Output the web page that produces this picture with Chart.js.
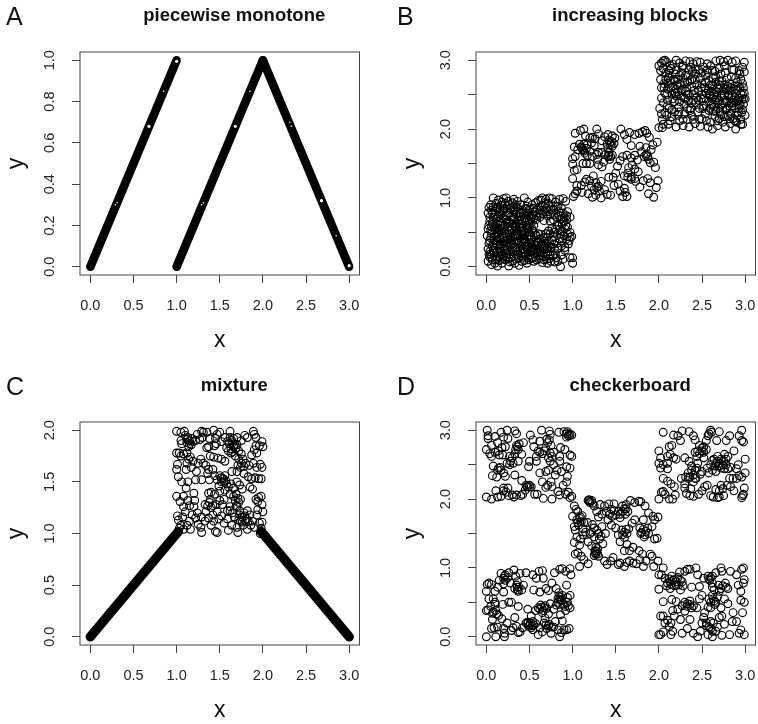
<!DOCTYPE html>
<html>
<head>
<meta charset="utf-8">
<title>Dependence patterns</title>
<script src="https://cdn.jsdelivr.net/npm/chart.js@4"></script>
<style>
  body { margin: 0; background: #fff; }
  canvas { position: absolute; }
</style>
</head>
<body>
<canvas id="panelA" width="379" height="354" style="left:0;top:0"></canvas>
<canvas id="panelB" width="379" height="354" style="left:379px;top:0"></canvas>
<canvas id="panelC" width="379" height="354" style="left:0;top:370px"></canvas>
<canvas id="panelD" width="379" height="354" style="left:379px;top:370px"></canvas>
<script>
const threeTicks = [0, 0.5, 1, 1.5, 2, 2.5, 3];
const unitTicks = [0, 0.2, 0.4, 0.6, 0.8, 1];
const twoTicks = [0, 0.5, 1, 1.5, 2];

// panel A, straight runs of overlapping circles and the few gaps left in them
const aRiseLeft = [[0, 0], [1, 1]];
const aRiseRight = [[1, 0], [2, 1]];
const aFall = [[2, 1], [3, 0]];
const aGaps = [[0.68, 0.68], [1.68, 0.68], [2.68, 0.32], [1, 0.995], [3, 0.005]];
const aSpecks = [[0.29, 0.3], [0.31, 0.31], [1.29, 0.3], [1.31, 0.31], [2.31, 0.7], [2.33, 0.68], [0.85, 0.85], [1.85, 0.85], [2.85, 0.15]];
const cLeftRun = [[0, 0], [1.02, 1.02]];
const cRightRun = [[1.98, 1.02], [3, 0]];

const bLower = [
  [.02,.78],[.03,.86],[.05,.9],[.08,.87],[.08,1],[.11,.92],[.14,.97],[.17,.89],[.2,.99],[.23,1],[.25,.95],[.28,.85],[.32,.98],[.36,.95],[.4,.9],[.44,1],[.47,.88],[.5,.83],[.53,.9],[.57,.93],[.6,.96],[.63,.97],[.65,1],[.69,.98],[.73,1],[.76,.99],[.8,.94],[.85,.98],[.89,.99],[.92,.95],[.94,.8],[.97,.72],
  [.04,.72],[.07,.78],[.1,.8],[.13,.84],[.16,.76],[.19,.81],[.22,.74],[.25,.78],[.28,.72],[.31,.82],[.34,.76],[.37,.83],[.4,.73],[.43,.78],[.46,.71],[.49,.75],[.52,.7],[.56,.79],[.59,.84],[.62,.87],[.66,.89],[.7,.85],[.72,.8],[.75,.83],[.78,.75],[.81,.87],[.84,.8],[.87,.85],[.9,.72],[.93,.68],
  [.01,.45],[.02,.55],[.03,.6],[.05,.52],[.07,.65],[.09,.58],[.11,.7],[.13,.62],[.15,.54],[.17,.67],[.19,.6],[.21,.52],[.23,.68],[.25,.58],[.27,.63],[.29,.54],[.31,.68],[.33,.6],[.35,.53],[.37,.66],[.39,.58],[.41,.62],[.43,.52],[.45,.65],[.47,.57],[.49,.51],[.51,.63],[.53,.55],[.55,.6],[.72,.52],[.76,.56],[.79,.5],[.82,.6],[.85,.54],[.88,.62],[.91,.55],[.94,.48],[.97,.5],[.99,.44],
  [.02,.26],[.03,.34],[.05,.42],[.07,.3],[.09,.38],[.11,.46],[.13,.32],[.15,.41],[.17,.27],[.19,.36],[.21,.44],[.23,.3],[.25,.39],[.27,.47],[.29,.33],[.31,.42],[.33,.28],[.35,.37],[.37,.45],[.39,.31],[.41,.4],[.43,.26],[.45,.35],[.47,.44],[.49,.3],[.51,.39],[.53,.27],[.55,.36],[.57,.46],[.59,.31],[.61,.4],[.63,.47],[.65,.29],[.67,.37],[.7,.43],[.73,.3],[.76,.38],[.79,.26],[.82,.34],[.85,.41],[.88,.37],[.91,.28],[.93,.4],[.95,.33],[.97,.43],[.71,.26],
  [.02,.08],[.04,.14],[.03,.18],[.06,.03],[.07,.1],[.09,.2],[.1,.05],[.12,.14],[.13,.01],[.15,.09],[.17,.22],[.18,.05],[.2,.16],[.22,.1],[.24,.19],[.26,.01],[.27,.07],[.29,.14],[.31,.22],[.33,.05],[.34,.11],[.36,.18],[.38,.02],[.39,.24],[.41,.08],[.43,.14],[.45,.21],[.47,.05],[.49,.1],[.51,.17],[.53,.23],[.55,.08],[.57,.14],[.59,.2],[.61,.11],[.63,.16],[.65,.06],[.67,.1],[.69,.18],[.71,.05],[.73,.12],[.75,.08],[.77,.16],[.79,.07],[.81,.13],[.83,.08],[.86,0],[.87,.17],[.89,.11],[.91,.24],[.97,.13],[1,.05],[1,.13],
  [.04,.22],[.1,.27],[.16,.15],[.24,.25],[.3,.08],[.36,.28],[.42,.19],[.48,.25],[.54,.13],[.6,.24],[.64,.22],[.68,.26],[.74,.22],[.8,.19],[.06,.48],[.12,.5],[.18,.47],[.24,.48],[.3,.49],[.36,.47],[.42,.48],[.08,.72],[.14,.73],[.2,.7],[.26,.66],[.32,.72],[.38,.68],[.44,.7],[.5,.66],[.46,.85],[.42,.82],[.34,.9],[.3,.93],[.18,.94],[.12,.85],
  [.58,.45],[.6,.48],[.66,.42],[.69,.48],[.74,.48],[.78,.43],[.82,.47],[.86,.48],[.9,.45],[.57,.68],[.62,.72],[.67,.67],[.71,.74],[.66,.76],[.74,.66],[.78,.68],[.82,.72],[.86,.69],[.89,.78],[.93,.74]
];
const bLowerDense = [
  [.06,.14],[.11,.1],[.14,.2],[.19,.12],[.21,.23],[.26,.13],[.28,.22],[.32,.15],[.35,.24],[.4,.16],[.44,.09],[.46,.17],[.5,.22],[.52,.12],[.56,.19],[.58,.1],[.62,.2],[.66,.15],[.7,.11],[.74,.17],
  [.08,.34],[.12,.38],[.16,.33],[.2,.3],[.22,.37],[.26,.34],[.28,.41],[.32,.35],[.34,.44],[.38,.37],[.4,.34],[.44,.4],[.46,.29],[.5,.35],[.52,.43],[.56,.32],[.6,.36],[.64,.33],[.68,.3],[.72,.38],
  [.06,.58],[.1,.54],[.14,.66],[.18,.55],[.22,.6],[.26,.53],[.3,.62],[.34,.57],[.38,.62],[.42,.56],[.46,.6],[.5,.58],[.54,.52],[.5,.46],[.44,.46],[.8,.55],[.84,.6],[.88,.52],[.92,.6],
  [.06,.82],[.1,.76],[.15,.8],[.21,.84],[.24,.88],[.27,.78],[.33,.8],[.39,.78],[.45,.75],[.48,.8],[.54,.76],[.58,.74],[.61,.78],[.65,.82],[.68,.8],[.74,.76],[.77,.88],[.83,.88],[.48,.94],[.55,.85],
  [.05,.18],[.08,.24],[.12,.22],[.18,.18],[.23,.14],[.27,.18],[.3,.27],[.37,.12],[.42,.25],[.48,.13],[.52,.33],[.55,.25],[.58,.38],[.62,.28],[.66,.25],[.7,.34],[.75,.28],[.78,.33],[.83,.27],[.87,.3],
  [.04,.38],[.09,.44],[.14,.48],[.19,.42],[.24,.43],[.29,.39],[.33,.47],[.4,.44],[.45,.5],[.48,.56],[.4,.52],[.35,.62],[.3,.56],[.24,.65],[.16,.6],[.12,.56],[.08,.62],[.04,.66],
  [.11,.86],[.16,.85],[.22,.92],[.27,.9],[.31,.87],[.36,.86],[.38,.73],[.41,.67],[.47,.78],[.51,.73],[.55,.7],[.62,.82],[.68,.92],[.72,.92],[.78,.82],[.84,.74],[.88,.7],[.9,.66],[.94,.58],[.96,.38]
];
const bMiddle = [
  [1.03,1.94],[1.09,1.98],[1.13,2],[1.02,1.74],[1.08,1.78],[1.1,1.74],[1.12,1.7],[1.06,1.7],[1.14,1.65],[1.17,1.62],[1.0,1.57],[1.03,1.6],[1.0,1.49],[1.05,1.41],[1.02,1.4],[1.0,1.28],[1.05,1.18],[1.1,1.18],[1.03,1.06],[1.01,1.02],[1.05,1.1],[1.11,1.08],
  [1.15,1.9],[1.2,1.87],[1.23,1.88],[1.28,2],[1.3,1.93],[1.26,1.86],[1.22,1.8],[1.25,1.76],[1.17,1.77],[1.13,1.78],[1.2,1.68],[1.12,1.5],[1.16,1.5],[1.2,1.5],[1.23,1.6],[1.28,1.63],[1.3,1.66],[1.34,1.66],[1.38,1.63],[1.41,1.6],[1.43,1.56],[1.42,1.66],[1.46,1.62],[1.3,1.48],[1.34,1.45],[1.36,1.52],[1.29,1.56],[1.24,1.32],[1.2,1.25],[1.16,1.27],[1.22,1.17],[1.14,1.23],[1.25,1.12],[1.18,1.06],[1.23,1.01],[1.27,1.04],[1.28,1.15],[1.31,1.1],[1.27,1.22],[1.33,1.24],[1.3,1.17],
  [1.37,1.89],[1.41,1.92],[1.46,1.9],[1.49,1.87],[1.42,1.84],[1.45,1.82],[1.4,1.78],[1.44,1.77],[1.48,1.79],[1.34,1.83],[1.56,2],[1.6,1.92],[1.66,1.95],[1.63,1.85],[1.68,1.76],[1.72,1.92],[1.77,1.94],[1.81,1.96],[1.84,1.98],[1.86,1.94],[1.89,1.88],[1.78,1.75],[1.85,1.73],[1.93,1.77],[1.98,1.81],[1.91,1.7],[1.86,1.64],[1.83,1.6],[1.88,1.56],[1.9,1.51],[1.94,1.52],[1.96,1.44],[1.8,1.67],
  [1.55,1.54],[1.58,1.6],[1.63,1.62],[1.68,1.58],[1.72,1.62],[1.75,1.55],[1.69,1.48],[1.65,1.44],[1.72,1.42],[1.76,1.38],[1.52,1.46],[1.5,1.36],[1.47,1.3],[1.53,1.2],[1.48,1.18],[1.42,1.3],[1.6,1.32],[1.64,1.3],[1.68,1.27],[1.73,1.24],[1.78,1.16],[1.82,1.25],[1.87,1.28],[1.9,1.22],[1.99,1.25],[1.97,1.15],[1.88,1.06],[1.94,1.01],[1.4,1.05],[1.44,1.04],[1.55,1.1],[1.58,1.02],[1.61,1.08],[1.63,1.02],[1.6,1.14],[1.37,1.12],[1.33,1.0],[1.64,1.36],
  [1.11,1.72],[1.13,1.68],[1.16,1.72],[1.43,1.8],[1.46,1.75],[1.41,1.72],[1.85,1.62],[1.87,1.6],[1.42,1.62],[1.44,1.6],[1.68,1.3],[1.72,1.28]
];
const bUpper = [
  [2,2.92],[2.02,2.85],[2.03,2.96],[2.05,2.99],[2.07,3],[2.09,2.97],[2.05,2.88],[2.08,2.82],[2.11,2.75],[2.14,2.88],[2.16,2.94],[2.2,3],[2.24,2.96],[2.27,2.9],[2.31,2.99],[2.36,2.98],[2.4,2.95],[2.44,2.98],[2.48,2.97],[2.52,2.9],[2.56,2.95],[2.62,2.85],[2.66,2.99],[2.71,3],[2.75,2.98],[2.8,3],[2.85,2.97],[2.89,2.99],[2.93,2.85],[2.97,2.9],[2.99,2.97],[2.99,2.83],
  [2.03,2.6],[2.02,2.72],[2.06,2.66],[2.1,2.58],[2.13,2.7],[2.16,2.62],[2.19,2.8],[2.22,2.72],[2.26,2.82],[2.3,2.68],[2.34,2.78],[2.38,2.62],[2.42,2.72],[2.46,2.86],[2.5,2.66],[2.54,2.78],[2.58,2.7],[2.62,2.63],[2.66,2.76],[2.7,2.88],[2.73,2.7],[2.77,2.82],[2.8,2.62],[2.84,2.76],[2.87,2.86],[2.91,2.68],[2.95,2.72],[2.98,2.6],[2.12,2.85],[2.28,2.92],[2.42,2.87],[2.6,2.92],[2.76,2.92],
  [2.01,2.3],[2.03,2.45],[2.05,2.38],[2.07,2.52],[2.1,2.42],[2.12,2.3],[2.15,2.52],[2.18,2.4],[2.2,2.58],[2.23,2.32],[2.26,2.48],[2.29,2.36],[2.31,2.55],[2.34,2.42],[2.37,2.3],[2.4,2.5],[2.43,2.38],[2.46,2.56],[2.49,2.44],[2.52,2.34],[2.55,2.52],[2.58,2.4],[2.61,2.55],[2.64,2.32],[2.67,2.46],[2.7,2.58],[2.73,2.36],[2.76,2.5],[2.79,2.4],[2.82,2.56],[2.85,2.34],[2.88,2.46],[2.91,2.56],[2.94,2.36],[2.97,2.5],[3,2.44],[3,2.2],[2.97,2.28],[2.93,2.45],[2.84,2.45],[2.72,2.48],[2.6,2.48],[2.33,2.5],[2.2,2.48],
  [2.0,2.02],[2.04,2.02],[2.04,2.14],[2.03,2.22],[2.05,2.07],[2.11,2.07],[2.15,2.18],[2.2,2.03],[2.18,2.25],[2.24,2.12],[2.28,2.05],[2.3,2.22],[2.35,2.03],[2.33,2.14],[2.38,2.2],[2.42,2.08],[2.45,2.25],[2.48,2.04],[2.5,2.15],[2.54,2.22],[2.57,2.03],[2.6,2.1],[2.62,2],[2.65,2.18],[2.68,2.05],[2.71,2.25],[2.74,2.1],[2.77,2.03],[2.8,2.2],[2.83,2.08],[2.86,2.15],[2.89,2],[2.92,2.24],[2.95,2.07],[2.97,2.07],[2.9,2.1],[2.7,2.15],[2.58,2.27],[2.36,2.27],[2.23,2.25]
];
const bUpperDense = [
  [2.06,2.6],[2.09,2.5],[2.12,2.78],[2.14,2.6],[2.16,2.44],[2.18,2.7],[2.2,2.86],[2.22,2.54],[2.24,2.4],[2.25,2.65],[2.28,2.74],[2.3,2.44],[2.32,2.6],[2.33,2.3],[2.35,2.5],[2.36,2.7],[2.38,2.38],[2.39,2.84],[2.41,2.56],[2.44,2.46],[2.44,2.64],[2.47,2.3],[2.48,2.74],[2.5,2.5],[2.52,2.44],[2.53,2.6],[2.55,2.34],[2.56,2.86],[2.57,2.56],[2.59,2.3],[2.6,2.64],[2.62,2.44],[2.63,2.74],[2.64,2.5],[2.65,2.84],[2.66,2.26],[2.68,2.6],[2.68,2.38],[2.7,2.7],[2.7,2.42],[2.72,2.8],[2.72,2.22],[2.74,2.56],[2.74,2.3],[2.76,2.64],[2.77,2.42],[2.78,2.28],[2.79,2.74],[2.8,2.5],[2.81,2.34],[2.82,2.66],[2.83,2.22],[2.84,2.56],[2.85,2.86],[2.86,2.42],[2.87,2.62],[2.88,2.3],[2.89,2.74],[2.9,2.4],[2.91,2.2],[2.92,2.62],[2.93,2.3],[2.94,2.8],[2.95,2.52],[2.96,2.42],[2.97,2.66],[2.98,2.36],[2.99,2.52],[2.95,2.14],[2.88,2.12],[2.82,2.15],[2.76,2.18],[2.68,2.12],[2.63,2.26],[2.55,2.12],[2.47,2.14],[2.4,2.14],[2.28,2.14],[2.22,2.2],[2.13,2.12],[2.09,2.2],[2.07,2.24],[2.1,2.34],[2.15,2.28],[2.27,2.58],[2.31,2.78],[2.37,2.9],[2.5,2.82],[2.66,2.68],[2.78,2.58],[2.84,2.38],
  [2.08,2.72],[2.11,2.66],[2.13,2.92],[2.17,2.72],[2.19,2.52],[2.21,2.64],[2.24,2.78],[2.26,2.56],[2.29,2.46],[2.33,2.68],[2.35,2.86],[2.38,2.72],[2.4,2.42],[2.43,2.8],[2.46,2.42],[2.49,2.6],[2.51,2.3],[2.54,2.68],[2.57,2.82],[2.59,2.5],[2.61,2.36],[2.63,2.58],[2.65,2.42],[2.67,2.54],[2.69,2.3],[2.71,2.64],[2.73,2.5],[2.75,2.38],[2.77,2.6],[2.79,2.3],[2.81,2.48],[2.83,2.6],[2.85,2.5],[2.87,2.38],[2.89,2.58],[2.9,2.24],[2.92,2.42],[2.94,2.6],[2.96,2.24],[2.98,2.44]
];

const cBlock = [
  [1,1.99],[1.05,1.98],[1.09,1.99],[1.1,1.95],[1.13,1.93],[1.05,1.9],[1.06,1.87],[1.12,1.88],[1.15,1.9],[1.17,1.86],[1.14,1.84],[1.19,1.89],[1.22,1.9],[1.24,1.96],[1.27,1.91],[1.29,1.99],[1.31,1.98],[1.3,1.93],[1.35,1.98],[1.38,1.92],[1.43,2],[1.47,1.96],[1.45,1.92],[1.5,1.98],[1.46,1.87],[1.44,1.85],[1.35,1.83],[1.37,1.84],[1.52,1.89],[1.56,1.93],[1.59,1.89],[1.62,1.99],[1.62,1.93],[1.66,1.92],[1.7,1.93],[1.75,1.9],[1.79,1.95],[1.82,1.93],[1.89,1.99],[1.9,1.96],[1.92,1.93],[1.99,1.89],[1.96,1.85],[2,1.84],[1.92,1.85],[1.9,1.81],[1.93,1.78],[1.87,1.76],
  [1,1.78],[1.03,1.78],[1.05,1.75],[1.08,1.77],[1.12,1.78],[1.16,1.74],[1.19,1.7],[1.12,1.68],[1.01,1.67],[1,1.62],[1.11,1.62],[1.17,1.64],[1.25,1.68],[1.23,1.6],[1.02,1.55],[1.06,1.5],[1.13,1.5],[1.11,1.44],[1.22,1.52],[1.29,1.52],[1.31,1.68],[1.34,1.66],[1.37,1.62],[1.36,1.58],[1.42,1.62],[1.39,1.75],[1.43,1.74],[1.48,1.73],[1.52,1.72],[1.56,1.7],[1.6,1.8],[1.63,1.78],[1.66,1.84],[1.68,1.75],[1.72,1.8],[1.75,1.77],[1.58,1.83],[1.61,1.87],[1.65,1.88],[1.69,1.83],[1.77,1.72],[1.8,1.68],[1.84,1.66],[1.89,1.68],[1.97,1.67],[1.99,1.64],[1.93,1.64],[1.71,1.66],[1.7,1.6],[1.74,1.64],[1.78,1.58],[1.64,1.6],
  [1.38,1.52],[1.44,1.56],[1.47,1.52],[1.5,1.56],[1.52,1.5],[1.54,1.53],[1.57,1.51],[1.49,1.46],[1.6,1.45],[1.63,1.48],[1.66,1.44],[1.7,1.5],[1.73,1.47],[1.76,1.43],[1.83,1.55],[1.87,1.53],[1.91,1.54],[1.95,1.53],[1.98,1.53],[1.88,1.43],[1.85,1.45],[1.62,1.38],[1.44,1.38],[1.4,1.4],[1.37,1.39],[1.5,1.41],
  [1,1.36],[1.08,1.36],[1.04,1.31],[1.13,1.32],[1.08,1.26],[1.15,1.27],[1.2,1.39],[1.21,1.32],[1.24,1.2],[1.33,1.28],[1.36,1.27],[1.39,1.33],[1.4,1.25],[1.46,1.28],[1.47,1.21],[1.5,1.32],[1.53,1.28],[1.59,1.22],[1.62,1.26],[1.66,1.36],[1.68,1.32],[1.71,1.34],[1.74,1.33],[1.69,1.27],[1.73,1.22],[1.78,1.2],[1.82,1.22],[1.85,1.18],[1.92,1.33],[1.95,1.35],[1.98,1.36],[1.94,1.31],[1.99,1.28],[1.94,1.23],[2,1.21],[1.93,1.18],
  [1.01,1.17],[1.02,1.13],[1.05,1.08],[1.03,1.05],[1.08,1.04],[1.12,1.08],[1.16,1.04],[1.15,1.12],[1.18,1.18],[1.22,1.15],[1.25,1.09],[1.29,1.16],[1.28,1.06],[1.29,1.01],[1.33,1.12],[1.37,1.15],[1.4,1.08],[1.43,1.12],[1.45,1.02],[1.47,1.01],[1.49,1.14],[1.52,1.17],[1.55,1.1],[1.59,1.14],[1.6,1.03],[1.64,1.08],[1.67,1.16],[1.7,1.06],[1.71,1.01],[1.74,1.12],[1.77,1.08],[1.8,1.12],[1.82,1.04],[1.86,1.08],[1.88,1.12],[1.9,1.06],[1.96,1.1],[1.98,1.05],[1.99,1.11],[1.97,1],
  [1.07,1.16],[1.1,1.21],[1.2,1.26],[1.34,1.21],[1.42,1.18],[1.55,1.33],[1.72,1.13],[1.76,1.16],[1.81,1.14],[1.56,1.42],[1.28,1.72],[1.14,1.72],
  [1.63,1.82],[1.65,1.79],[1.67,1.86],[1.64,1.9],[1.7,1.86],[1.15,1.87],[1.18,1.92],[1.12,1.91],[1.55,1.5],[1.58,1.48],[1.56,1.56],[1.52,1.54],[1.7,1.26],[1.72,1.3],[1.69,1.38],[1.73,1.18],[1.76,1.11],[1.79,1.17],[1.83,1.12],[1.62,1.22],[1.65,1.2],[1.38,1.3],[1.42,1.27],[1.75,1.68],[1.78,1.65],[1.72,1.72]
];

const dLowerLeft = [
  [0,0],[.06,.12],[.09,.13],[.11,0],[.13,.14],[.2,.12],[.21,0],[.21,.05],[.24,.2],[.29,.09],[.31,.13],[.35,.15],[.37,.06],[.39,.07],[.42,.13],[.46,.2],[.48,.21],[.5,.17],[.52,.13],[.54,.1],[.57,.19],[.6,.03],[.62,.13],[.65,.07],[.67,.2],[.7,.12],[.72,.16],[.75,.05],[.78,.14],[.8,.22],[.83,.1],[.85,0],[.87,.06],[.88,.23],[.9,.1],[.93,.1],[.96,.12],
  [.0,.38],[.02,.39],[.03,.55],[.05,.44],[.07,.34],[.07,.25],[.08,.55],[.1,.47],[.12,.33],[.14,.31],[.18,.26],[.19,.47],[.26,.5],[.29,.5],[.33,.28],[.37,.44],[.48,.4],[.52,.3],[.54,.22],[.57,.38],[.6,.42],[.63,.46],[.65,.35],[.67,.42],[.68,.27],[.72,.33],[.74,.48],[.78,.4],[.81,.46],[.83,.55],[.86,.32],[.87,.52],[.89,.47],[.92,.38],[.94,.57],[.97,.42],[.97,.6],
  [0,.66],[.01,.76],[.03,.78],[.06,.76],[.1,.66],[.13,.72],[.15,.82],[.17,.92],[.2,.85],[.22,.9],[.2,.77],[.2,.65],[.26,.93],[.28,.78],[.32,.97],[.34,.88],[.36,.72],[.37,.66],[.36,.8],[.39,.92],[.41,.68],[.43,.75],[.46,.93],[.54,.9],[.55,.68],[.58,.85],[.61,.95],[.62,.65],[.65,.96],[.66,.85],[.69,.7],[.72,.67],[.76,.78],[.79,.93],[.81,.7],[.84,.64],[.85,.98],[.88,.99],[.92,.95],[.86,.58],[.93,.75],[.97,.99],[.98,.9],
  [.48,.19],[.51,.2],[.53,.16],[.49,.15],[.55,.17],[.62,.4],[.64,.43],[.66,.38],[.68,.45],[.7,.41],[.84,.58],[.86,.54],[.88,.6],[.83,.5],[.85,.47],[.35,.75],[.33,.7],[.38,.72],[.36,.68],[.21,.88],[.25,.86],[.22,.82],[.1,.5],[.08,.36],[.11,.38],[.73,.18],[.76,.14],[.69,.17],[.94,.5],[.91,.44],[.95,.45]
];
const dUpperLeft = [
  [.01,3],[.02,2.92],[.02,2.88],[0,2.72],[.04,2.66],[.06,2.78],[.1,2.91],[.13,2.82],[.14,2.7],[.17,2.97],[.2,2.9],[.22,2.76],[.19,2.64],[.24,3],[.25,2.88],[.27,2.62],[.33,2.99],[.35,2.95],[.35,2.78],[.37,2.72],[.41,2.65],[.43,2.82],[.51,2.93],[.54,2.86],[.55,2.76],[.58,2.62],[.62,2.84],[.64,3],[.67,2.7],[.7,2.87],[.73,2.99],[.74,2.94],[.75,2.78],[.78,2.68],[.84,2.97],[.86,2.75],[.9,2.98],[.93,2.95],[.95,2.92],[.97,2.93],[.99,2.93],[.97,2.64],[.99,2.62],[.91,2.72],
  [.08,2.48],[.07,2.34],[.12,2.32],[.14,2.45],[.17,2.42],[.2,2.38],[.22,2.33],[.27,2.5],[.31,2.52],[.33,2.35],[.37,2.55],[.41,2.27],[.49,2.47],[.5,2.55],[.58,2.55],[.62,2.38],[.65,2.25],[.69,2.4],[.72,2.42],[.74,2.55],[.78,2.5],[.8,2.35],[.85,2.55],[.87,2.4],[.93,2.47],[.97,2.45],[.94,2.33],[.93,2.25],[.89,2.2],[.75,2.25],
  [0,2.03],[.06,2],[.11,2.12],[.13,2.03],[.17,2.04],[.2,2.16],[.2,2.12],[.23,2.1],[.25,2.16],[.26,2.05],[.3,2.06],[.32,2.03],[.35,2.06],[.4,2.05],[.42,2.07],[.45,2.13],[.47,2.18],[.5,2.17],[.52,2.18],[.56,2.07],[.59,2.07],[.66,2.01],[.69,2.17],[.71,2.2],[.76,2.18],[.76,2.0],[.83,2.11],[.85,2.06],[.92,2.07],[.95,2.1],[.97,2.02],[.99,2.04],
  [.36,2.76],[.38,2.8],[.34,2.72],[.33,2.66],[.3,2.6],[.28,2.55],[.24,2.52],[.13,2.42],[.16,2.46],[.71,2.82],[.73,2.86],[.69,2.74],[.62,2.68],[.65,2.66],[.6,2.7],[.72,2.6],[.76,2.62],[.74,2.67],[.94,2.98],[.96,2.95],[.93,2.9],[.18,2.75],[.15,2.64],[.1,2.68],[.06,2.62],[.48,2.18],[.5,2.2],[.46,2.2],[.85,2.62],[.82,2.42]
];
const dCentre = [
  [1.02,1.9],[1.04,1.85],[1.06,1.82],[1,1.75],[1.05,1.7],[1.09,1.74],[1.1,1.67],[1.02,1.6],[1.03,1.55],[1.07,1.62],[1.12,1.57],[1.05,1.45],[1.09,1.42],[1.02,1.37],[1.08,1.33],[1.12,1.48],[1.06,1.22],[1.1,1.17],[1.03,1.2],[1.08,1.02],[1.13,1.12],[1.18,1.06],
  [1.18,1.98],[1.2,1.97],[1.22,1.98],[1.25,1.9],[1.28,1.82],[1.32,1.92],[1.3,1.74],[1.34,1.78],[1.37,1.9],[1.39,1.82],[1.42,1.93],[1.45,1.85],[1.48,1.93],[1.5,1.77],[1.53,1.82],[1.55,1.73],[1.58,1.9],[1.6,1.86],[1.62,1.92],[1.67,1.98],[1.72,1.95],[1.77,1.97],[1.79,1.96],[1.84,1.9],[1.88,1.8],[1.93,1.75],[1.95,1.7],[1.99,1.74],
  [1.17,1.66],[1.15,1.52],[1.2,1.5],[1.23,1.63],[1.25,1.45],[1.28,1.55],[1.31,1.42],[1.34,1.6],[1.38,1.5],[1.18,1.38],[1.22,1.32],[1.26,1.25],[1.27,1.2],[1.29,1.28],[1.3,1.17],[1.35,1.35],[1.41,1.7],[1.45,1.62],[1.5,1.58],[1.53,1.48],[1.57,1.55],[1.6,1.44],[1.63,1.5],[1.65,1.57],[1.69,1.65],[1.72,1.7],[1.78,1.58],[1.82,1.7],[1.85,1.53],[1.88,1.5],[1.92,1.6],[1.95,1.42],[1.98,1.43],[1.83,1.45],[1.79,1.5],
  [1.37,1.1],[1.4,1.05],[1.44,1.1],[1.47,1.15],[1.53,1.05],[1.55,1.07],[1.6,1.02],[1.63,1.08],[1.66,1.1],[1.7,1.07],[1.74,1.06],[1.78,1.12],[1.82,1.02],[1.85,1.1],[1.9,1.2],[1.92,1.17],[1.94,1.02],[1.99,1.1],[1.66,1.25],[1.6,1.25],[1.7,1.3],[1.77,1.25],[1.81,1.2],[1.55,1.38],[1.63,1.34],
  [1.26,1.22],[1.28,1.24],[1.25,1.18],[1.29,1.2],[1.27,1.3],[1.08,1.72],[1.11,1.76],[1.06,1.66],[1.13,1.66],[1.2,1.95],[1.19,1.99],[1.23,1.94],[1.43,1.78],[1.46,1.75],[1.48,1.83],[1.55,1.78],[1.58,1.82],[1.62,1.86],[1.61,1.78],[1.64,1.82],[1.58,1.48],[1.6,1.52],[1.62,1.56],[1.8,1.52],[1.82,1.56],[1.84,1.48],[1.87,1.58],[1.25,1.58],[1.22,1.52],[1.3,1.5],[1.33,1.46]
];
const dUpperRight = [
  [2.05,2.97],[2.17,2.93],[2.22,2.92],[2.27,2.99],[2.25,2.85],[2.15,2.78],[2.12,2.76],[2.0,2.7],[2.02,2.6],[2.0,2.52],[2.05,2.5],[2.02,2.45],[2.1,2.62],[2.1,2.52],[2.13,2.65],[2.17,2.6],[2.2,2.58],[2.1,2.44],[2.05,2.3],[2.1,2.26],[2.14,2.22],[2.18,2.18],[2.03,2.1],[2.05,2.11],[2.07,2.07],[2.0,2.0],[2.12,2.0],[2.16,2.0],[2.19,2.06],
  [2.35,2.98],[2.4,2.92],[2.42,2.86],[2.47,2.78],[2.42,2.68],[2.45,2.7],[2.5,2.74],[2.52,2.76],[2.55,2.85],[2.57,2.92],[2.58,2.95],[2.6,3],[2.61,2.97],[2.7,2.98],[2.67,2.85],[2.78,2.85],[2.82,2.92],[2.93,2.92],[2.96,3],[2.96,2.85],[2.98,2.83],
  [2.3,2.6],[2.35,2.55],[2.38,2.48],[2.42,2.42],[2.45,2.52],[2.48,2.36],[2.5,2.4],[2.52,2.6],[2.56,2.45],[2.6,2.5],[2.62,2.56],[2.65,2.48],[2.66,2.4],[2.68,2.62],[2.7,2.52],[2.72,2.45],[2.75,2.56],[2.78,2.5],[2.8,2.62],[2.83,2.46],[2.87,2.7],[2.9,2.44],[2.93,2.34],[2.96,2.32],[3,2.38],[3,2.58],[2.92,2.5],[2.76,2.65],
  [2.26,2.3],[2.3,2.22],[2.34,2.3],[2.37,2.15],[2.4,2.25],[2.43,2.3],[2.46,2.07],[2.5,2.12],[2.53,2.18],[2.56,2.2],[2.6,2.05],[2.63,2.03],[2.66,2.14],[2.68,2.02],[2.7,2.03],[2.72,2.2],[2.75,2.05],[2.79,2.2],[2.83,2.18],[2.87,2.12],[2.96,2.02],[2.97,2.05],[2.98,2.07],[2.99,2.16],[2.32,2.08],[2.36,2.05],[2.4,2.04],
  [2.68,2.55],[2.7,2.48],[2.72,2.58],[2.74,2.5],[2.76,2.44],[2.66,2.52],[2.64,2.58],[2.78,2.58],[2.8,2.44],[2.4,2.35],[2.38,2.42],[2.42,2.3],[2.36,2.32],[2.44,2.45],[2.34,2.38],[2.31,2.32],[2.5,2.7],[2.47,2.66],[2.52,2.68],[2.44,2.62],[2.55,2.72],[2.62,2.42],[2.58,2.38],[2.3,2.16],[2.7,2.12],[2.74,2.15],[2.82,2.3],[2.86,2.3],[2.9,2.3]
];
const dLowerRight = [
  [2,.9],[2.03,.9],[2.05,1],[2.07,.85],[2.1,.78],[2.13,.8],[2.15,.88],[2.18,.83],[2.2,.75],[2.22,.86],[2.24,.94],[2.27,.8],[2.25,.68],[2.3,.95],[2.33,.98],[2.36,.98],[2.38,.72],[2.43,1],[2.45,.9],[2.47,.73],[2.52,.85],[2.57,.88],[2.59,.82],[2.62,.72],[2.64,.68],[2.66,.93],[2.69,.75],[2.72,1],[2.73,.95],[2.77,.78],[2.8,.7],[2.83,.95],[2.9,.9],[2.92,.75],[2.96,.98],[2.98,1],[2.99,.83],[2.98,.78],[2.95,.66],[2.13,.7],
  [2,.69],[2.05,.51],[2.15,.54],[2.2,.51],[2.22,.4],[2.27,.45],[2.3,.37],[2.33,.48],[2.36,.52],[2.4,.45],[2.44,.42],[2.47,.55],[2.5,.6],[2.53,.35],[2.57,.43],[2.6,.5],[2.63,.55],[2.65,.47],[2.68,.58],[2.72,.42],[2.76,.55],[2.8,.48],[2.86,.35],[2.95,.53],[2.99,.5],[2.97,.35],[2.16,.38],
  [2.02,.3],[2.05,.3],[2.07,.2],[2.1,.24],[2.12,.15],[2.14,.2],[2.16,.08],[2,.03],[2.02,.03],[2.05,.07],[2.14,.03],[2.25,.25],[2.27,.05],[2.33,.12],[2.36,.25],[2.4,.05],[2.45,0],[2.48,.08],[2.5,.2],[2.52,.28],[2.55,.16],[2.57,.03],[2.6,.12],[2.63,.2],[2.66,.08],[2.68,.14],[2.7,.28],[2.73,.02],[2.76,.18],[2.82,.03],[2.85,.22],[2.9,.22],[2.93,.05],[2.95,.1],[2.99,.03],[2.62,0],[2.73,.3],[2.18,.3],
  [2.14,.76],[2.16,.82],[2.18,.74],[2.2,.8],[2.23,.75],[2.25,.82],[2.28,.74],[2.12,.84],[2.09,.74],[2.6,.86],[2.58,.84],[2.62,.88],[2.62,.78],[2.58,.55],[2.62,.6],[2.64,.52],[2.6,.42],[2.66,.5],[2.36,.47],[2.33,.44],[2.38,.42],[2.3,.5],[2.55,.2],[2.58,.14],[2.6,.22],[2.62,.08],[2.74,.74],[2.72,.7],[2.7,.66],[2.78,.72]
];

// same box for every panel, nudged for the left and right column
const boxAndText = {
  id: "boxAndText",
  afterDatasetsDraw(chart, args, opts) {
    const { ctx, chartArea: a } = chart;
    ctx.save();
    ctx.strokeStyle = "#444";
    ctx.lineWidth = 1;
    ctx.strokeRect(a.left, a.top, a.right - a.left, a.bottom - a.top);
    ctx.fillStyle = "#111";
    ctx.textBaseline = "middle";
    ctx.textAlign = "center";
    ctx.font = "bold 18.5px 'Liberation Sans'";
    ctx.fillText(opts.heading, (a.left + a.right) / 2 + 14.5, opts.headingY);
    ctx.textBaseline = "alphabetic";
    ctx.textAlign = "left";
    ctx.font = "25px 'Liberation Sans'";
    ctx.fillText(opts.letter, opts.letterX, 25);
    ctx.restore();
  },
};

function toPoints(pairs) {
  return pairs.map(([x, y]) => ({ x, y }));
}

function circles(pairs) {
  return {
    data: toPoints(pairs),
    showLine: false,
    pointRadius: 3.9,
    pointBorderWidth: 1.15,
    pointBorderColor: "#000",
    pointBackgroundColor: "transparent",
  };
}

function thickRun(pairs, width) {
  return {
    data: toPoints(pairs),
    showLine: true,
    borderColor: "#000",
    borderWidth: width,
    borderCapStyle: "round",
    pointRadius: 0,
  };
}

function holes(pairs, radius) {
  return {
    data: toPoints(pairs),
    showLine: false,
    pointRadius: radius,
    pointBorderWidth: 0,
    pointBackgroundColor: "#fff",
  };
}

function axisOptions(min, max, ticks, labels, titleText, horizontal) {
  return {
    type: "linear",
    min,
    max,
    afterBuildTicks: (scale) => {
      scale.ticks = ticks.map((value) => ({ value }));
    },
    afterFit: (scale) => {
      if (horizontal) scale.height = 79;
      else scale.width = 80;
      // labels may hang past the plot box, keep the box where it is
      scale.paddingLeft = scale.paddingRight = 0;
      scale.paddingTop = scale.paddingBottom = 0;
    },
    border: { display: false },
    grid: {
      drawOnChartArea: false,
      tickLength: 8,
      tickColor: "#444",
      tickWidth: 1,
    },
    ticks: {
      autoSkip: false,
      color: "#222",
      font: { family: "'Liberation Sans'", size: 14.5 },
      padding: horizontal ? 14 : 12,
      minRotation: horizontal ? 0 : 90,
      maxRotation: horizontal ? 0 : 90,
      crossAlign: horizontal ? "near" : "center",
      callback: (value) => labels(value),
    },
    title: {
      display: true,
      text: titleText,
      color: "#111",
      font: { family: "'Liberation Sans'", size: 23 },
      padding: horizontal ? { top: 0, bottom: 0 } : { top: 3, bottom: 0 },
    },
  };
}

const everyLabel = (value) => value.toFixed(1);
const wholeLabel = (value) => (Number.isInteger(value) ? value.toFixed(1) : "");

function drawPanel(id, panel) {
  const rightColumn = panel.column === 1;
  return new Chart(document.getElementById(id), {
    type: "scatter",
    data: { datasets: panel.datasets },
    options: {
      responsive: false,
      animation: false,
      devicePixelRatio: 1,
      layout: {
        autoPadding: false,
        padding: {
          top: 52,
          bottom: 0,
          left: rightColumn ? 17 : 0,
          right: rightColumn ? 2.5 : 19.5,
        },
      },
      scales: {
        x: axisOptions(-0.12, 3.12, threeTicks, everyLabel, "x", true),
        y: axisOptions(panel.yMin, panel.yMax, panel.yTicks, panel.yLabel, "y", false),
      },
      plugins: {
        legend: { display: false },
        tooltip: { enabled: false },
        boxAndText: {
          heading: panel.heading,
          headingY: 16,
          letter: panel.letter,
          letterX: rightColumn ? 18 : 6,
        },
      },
    },
    plugins: [boxAndText],
  });
}

drawPanel("panelA", {
  column: 0,
  heading: "piecewise monotone",
  letter: "A",
  yMin: -0.04,
  yMax: 1.04,
  yTicks: unitTicks,
  yLabel: everyLabel,
  datasets: [
    holes(aGaps, 1.6),
    holes(aSpecks, 0.8),
    thickRun(aRiseLeft, 8.6),
    thickRun(aRiseRight, 8.6),
    thickRun(aFall, 8.6),
  ],
});

drawPanel("panelB", {
  column: 1,
  heading: "increasing blocks",
  letter: "B",
  yMin: -0.12,
  yMax: 3.12,
  yTicks: threeTicks,
  yLabel: wholeLabel,
  datasets: [circles(bLower), circles(bLowerDense), circles(bMiddle), circles(bUpper), circles(bUpperDense)],
});

drawPanel("panelC", {
  column: 0,
  heading: "mixture",
  letter: "C",
  yMin: -0.08,
  yMax: 2.08,
  yTicks: twoTicks,
  yLabel: everyLabel,
  datasets: [circles(cBlock), thickRun(cLeftRun, 9.5), thickRun(cRightRun, 9.5)],
});

drawPanel("panelD", {
  column: 1,
  heading: "checkerboard",
  letter: "D",
  yMin: -0.12,
  yMax: 3.12,
  yTicks: threeTicks,
  yLabel: wholeLabel,
  datasets: [
    circles(dLowerLeft),
    circles(dUpperLeft),
    circles(dCentre),
    circles(dUpperRight),
    circles(dLowerRight),
  ],
});
</script>
</body>
</html>
